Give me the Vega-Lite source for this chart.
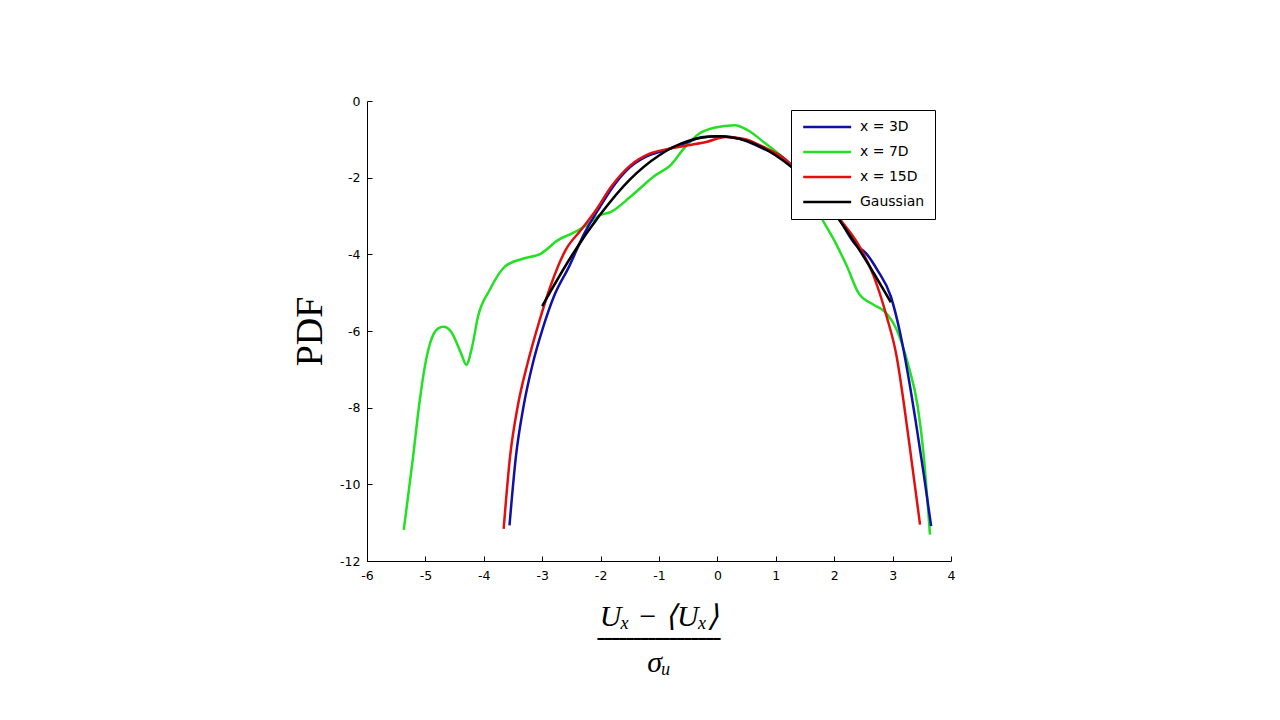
{
  "$schema": "https://vega.github.io/schema/vega-lite/v6.json",
  "autosize": {"type": "none"},
  "padding": {"left": 367, "top": 101, "right": 329, "bottom": 159},
  "width": 584,
  "height": 460,
  "background": "white",
  "config": {"view": {"stroke": null}, "font": "DejaVu Sans"},
  "title": {
    "text": "━━━━━━━━━━━━━━━━━",
    "subtitle": "σᵤ",
    "orient": "bottom",
    "anchor": "middle",
    "font": "DejaVu Sans",
    "fontSize": 12,
    "fontWeight": "normal",
    "color": "black",
    "offset": 2,
    "subtitleFont": "Liberation Serif",
    "subtitleFontStyle": "italic",
    "subtitleFontSize": 30,
    "subtitleColor": "black",
    "subtitlePadding": 2
  },
  "data": {
    "values": [
      {"s": "x = 7D", "x": -5.37, "y": -11.19},
      {"s": "x = 7D", "x": -5.21, "y": -9.27},
      {"s": "x = 7D", "x": -5.11, "y": -7.97},
      {"s": "x = 7D", "x": -5.01, "y": -6.93},
      {"s": "x = 7D", "x": -4.92, "y": -6.32},
      {"s": "x = 7D", "x": -4.78, "y": -5.93},
      {"s": "x = 7D", "x": -4.69, "y": -5.89},
      {"s": "x = 7D", "x": -4.56, "y": -6.02},
      {"s": "x = 7D", "x": -4.39, "y": -6.58},
      {"s": "x = 7D", "x": -4.30, "y": -6.88},
      {"s": "x = 7D", "x": -4.20, "y": -6.41},
      {"s": "x = 7D", "x": -4.10, "y": -5.63},
      {"s": "x = 7D", "x": -3.90, "y": -4.93},
      {"s": "x = 7D", "x": -3.64, "y": -4.32},
      {"s": "x = 7D", "x": -3.32, "y": -4.11},
      {"s": "x = 7D", "x": -3.02, "y": -3.98},
      {"s": "x = 7D", "x": -2.73, "y": -3.63},
      {"s": "x = 7D", "x": -2.47, "y": -3.44},
      {"s": "x = 7D", "x": -2.24, "y": -3.24},
      {"s": "x = 7D", "x": -2.01, "y": -2.98},
      {"s": "x = 7D", "x": -1.82, "y": -2.89},
      {"s": "x = 7D", "x": -1.49, "y": -2.50},
      {"s": "x = 7D", "x": -1.10, "y": -1.98},
      {"s": "x = 7D", "x": -0.78, "y": -1.64},
      {"s": "x = 7D", "x": -0.58, "y": -1.25},
      {"s": "x = 7D", "x": -0.32, "y": -0.86},
      {"s": "x = 7D", "x": -0.06, "y": -0.70},
      {"s": "x = 7D", "x": 0.30, "y": -0.63},
      {"s": "x = 7D", "x": 0.53, "y": -0.77},
      {"s": "x = 7D", "x": 0.79, "y": -1.07},
      {"s": "x = 7D", "x": 1.11, "y": -1.46},
      {"s": "x = 7D", "x": 1.44, "y": -2.00},
      {"s": "x = 7D", "x": 1.77, "y": -3.02},
      {"s": "x = 7D", "x": 2.03, "y": -3.72},
      {"s": "x = 7D", "x": 2.22, "y": -4.32},
      {"s": "x = 7D", "x": 2.42, "y": -5.02},
      {"s": "x = 7D", "x": 2.68, "y": -5.32},
      {"s": "x = 7D", "x": 2.87, "y": -5.50},
      {"s": "x = 7D", "x": 3.07, "y": -5.97},
      {"s": "x = 7D", "x": 3.26, "y": -6.84},
      {"s": "x = 7D", "x": 3.43, "y": -7.97},
      {"s": "x = 7D", "x": 3.53, "y": -9.20},
      {"s": "x = 7D", "x": 3.60, "y": -10.50},
      {"s": "x = 7D", "x": 3.64, "y": -11.31},

      {"s": "x = 3D", "x": -3.56, "y": -11.07},
      {"s": "x = 3D", "x": -3.45, "y": -9.27},
      {"s": "x = 3D", "x": -3.32, "y": -7.97},
      {"s": "x = 3D", "x": -3.16, "y": -6.84},
      {"s": "x = 3D", "x": -2.99, "y": -5.93},
      {"s": "x = 3D", "x": -2.80, "y": -5.10},
      {"s": "x = 3D", "x": -2.54, "y": -4.32},
      {"s": "x = 3D", "x": -2.28, "y": -3.46},
      {"s": "x = 3D", "x": -2.01, "y": -2.76},
      {"s": "x = 3D", "x": -1.75, "y": -2.16},
      {"s": "x = 3D", "x": -1.49, "y": -1.72},
      {"s": "x = 3D", "x": -1.23, "y": -1.46},
      {"s": "x = 3D", "x": -0.91, "y": -1.29},
      {"s": "x = 3D", "x": -0.58, "y": -1.12},
      {"s": "x = 3D", "x": -0.25, "y": -0.94},
      {"s": "x = 3D", "x": 0.07, "y": -0.92},
      {"s": "x = 3D", "x": 0.40, "y": -0.99},
      {"s": "x = 3D", "x": 0.79, "y": -1.25},
      {"s": "x = 3D", "x": 1.11, "y": -1.46},
      {"s": "x = 3D", "x": 1.50, "y": -2.05},
      {"s": "x = 3D", "x": 2.06, "y": -3.02},
      {"s": "x = 3D", "x": 2.35, "y": -3.72},
      {"s": "x = 3D", "x": 2.55, "y": -3.98},
      {"s": "x = 3D", "x": 2.74, "y": -4.41},
      {"s": "x = 3D", "x": 2.97, "y": -5.10},
      {"s": "x = 3D", "x": 3.13, "y": -6.06},
      {"s": "x = 3D", "x": 3.26, "y": -7.10},
      {"s": "x = 3D", "x": 3.40, "y": -8.40},
      {"s": "x = 3D", "x": 3.53, "y": -9.70},
      {"s": "x = 3D", "x": 3.66, "y": -11.09},

      {"s": "x = 15D", "x": -3.66, "y": -11.16},
      {"s": "x = 15D", "x": -3.55, "y": -9.27},
      {"s": "x = 15D", "x": -3.42, "y": -7.97},
      {"s": "x = 15D", "x": -3.25, "y": -6.84},
      {"s": "x = 15D", "x": -3.06, "y": -5.80},
      {"s": "x = 15D", "x": -2.86, "y": -4.84},
      {"s": "x = 15D", "x": -2.60, "y": -3.89},
      {"s": "x = 15D", "x": -2.34, "y": -3.37},
      {"s": "x = 15D", "x": -2.08, "y": -2.85},
      {"s": "x = 15D", "x": -1.82, "y": -2.24},
      {"s": "x = 15D", "x": -1.49, "y": -1.68},
      {"s": "x = 15D", "x": -1.17, "y": -1.38},
      {"s": "x = 15D", "x": -0.84, "y": -1.25},
      {"s": "x = 15D", "x": -0.52, "y": -1.16},
      {"s": "x = 15D", "x": -0.19, "y": -1.07},
      {"s": "x = 15D", "x": 0.14, "y": -0.94},
      {"s": "x = 15D", "x": 0.46, "y": -0.99},
      {"s": "x = 15D", "x": 0.79, "y": -1.20},
      {"s": "x = 15D", "x": 1.11, "y": -1.46},
      {"s": "x = 15D", "x": 1.50, "y": -2.05},
      {"s": "x = 15D", "x": 2.09, "y": -3.07},
      {"s": "x = 15D", "x": 2.42, "y": -3.76},
      {"s": "x = 15D", "x": 2.68, "y": -4.58},
      {"s": "x = 15D", "x": 2.90, "y": -5.63},
      {"s": "x = 15D", "x": 3.07, "y": -6.67},
      {"s": "x = 15D", "x": 3.20, "y": -7.97},
      {"s": "x = 15D", "x": 3.33, "y": -9.44},
      {"s": "x = 15D", "x": 3.47, "y": -11.05},

      {"s": "Gaussian", "x": -3.0, "y": -5.35},
      {"s": "Gaussian", "x": -2.5, "y": -4.05},
      {"s": "Gaussian", "x": -2.0, "y": -2.95},
      {"s": "Gaussian", "x": -1.5, "y": -2.05},
      {"s": "Gaussian", "x": -1.0, "y": -1.42},
      {"s": "Gaussian", "x": -0.5, "y": -1.04},
      {"s": "Gaussian", "x": 0.0, "y": -0.92},
      {"s": "Gaussian", "x": 0.5, "y": -1.04},
      {"s": "Gaussian", "x": 1.0, "y": -1.42},
      {"s": "Gaussian", "x": 1.5, "y": -2.04},
      {"s": "Gaussian", "x": 2.0, "y": -2.92},
      {"s": "Gaussian", "x": 2.5, "y": -4.05},
      {"s": "Gaussian", "x": 2.97, "y": -5.25}
    ]
  },
  "mark": {"type": "line", "strokeWidth": 2.5, "interpolate": "monotone", "clip": true},
  "encoding": {
    "x": {
      "field": "x",
      "type": "quantitative",
      "scale": {"domain": [-6, 4], "nice": false, "zero": false},
      "axis": {
        "values": [-6, -5, -4, -3, -2, -1, 0, 1, 2, 3, 4],
        "labelExpr": "'' + datum.value",
        "grid": false,
        "tickSize": -5,
        "tickColor": "black",
        "domainColor": "black",
        "labelColor": "black",
        "labelFont": "DejaVu Sans",
        "labelFontSize": 12.5,
        "labelPadding": 13,
        "labelFlush": false,
        "title": "Uₓ − ⟨Uₓ⟩",
        "titleFont": "Liberation Serif",
        "titleFontStyle": "italic",
        "titleFontWeight": "normal",
        "titleFontSize": 30,
        "titlePadding": 20,
        "titleColor": "black"
      }
    },
    "y": {
      "field": "y",
      "type": "quantitative",
      "scale": {"domain": [-12, 0], "nice": false, "zero": false},
      "axis": {
        "values": [0, -2, -4, -6, -8, -10, -12],
        "labelExpr": "'' + datum.value",
        "grid": false,
        "tickSize": -5,
        "tickColor": "black",
        "domainColor": "black",
        "labelColor": "black",
        "labelFont": "DejaVu Sans",
        "labelFontSize": 12.5,
        "labelPadding": 12,
        "labelFlush": false,
        "title": "PDF",
        "titleFont": "Liberation Serif",
        "titleFontWeight": "normal",
        "titleFontSize": 38,
        "titlePadding": 10,
        "titleColor": "black"
      }
    },
    "color": {
      "field": "s",
      "type": "nominal",
      "sort": ["x = 3D", "x = 7D", "x = 15D", "Gaussian"],
      "scale": {
        "domain": ["x = 3D", "x = 7D", "x = 15D", "Gaussian"],
        "range": ["#1010a8", "#22e022", "#e01010", "#000000"]
      },
      "legend": {
        "title": null,
        "orient": "none",
        "legendX": 424,
        "legendY": 9,
        "symbolType": "M-1,0H9",
        "symbolSize": 92,
        "symbolStrokeWidth": 2.5,
        "labelFont": "DejaVu Sans",
        "labelFontSize": 14,
        "labelColor": "black",
        "rowPadding": 11,
        "padding": 10,
        "strokeColor": "black",
        "fillColor": "white",
        "labelOffset": 45
      }
    }
  }
}
